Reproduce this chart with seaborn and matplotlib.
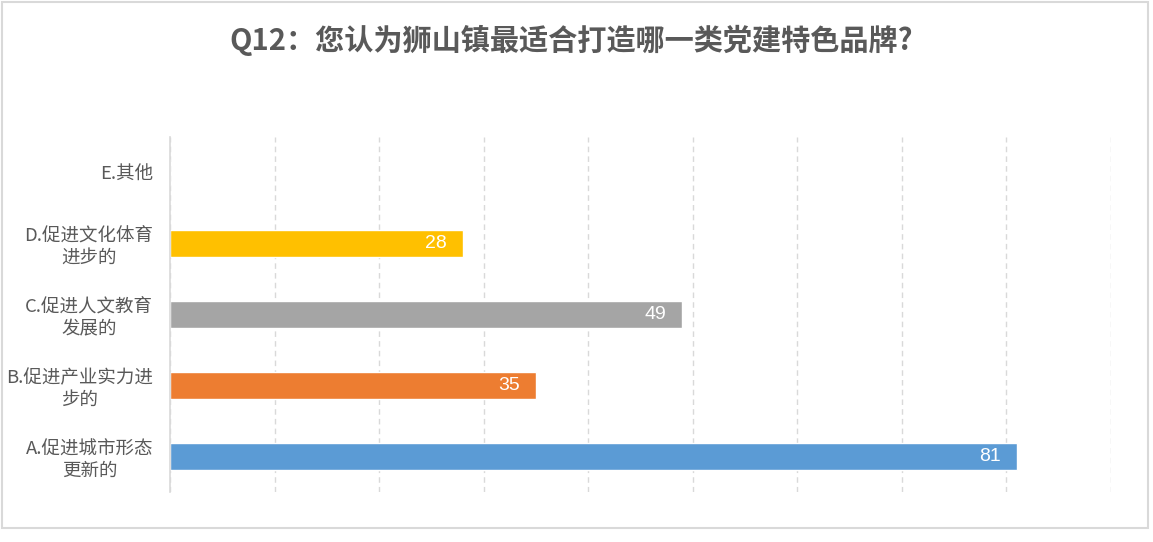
import matplotlib
matplotlib.use("Agg")
import matplotlib.pyplot as plt
import seaborn as sns
import pandas as pd
from matplotlib.patches import Rectangle

categories = ["E.其他", "D.促进文化体育\n进步的", "C.促进人文教育\n发展的",
              "B.促进产业实力进\n步的", "A.促进城市形态\n更新的"]
values = [0, 28, 49, 35, 81]
colors = ["#4472C4", "#FFC000", "#A5A5A5", "#ED7D31", "#5B9BD5"]
title = "Q12：您认为狮山镇最适合打造哪一类党建特色品牌?"

sns.set_theme(style="white")
plt.rcParams['font.family'] = ['Noto Sans CJK SC', 'DejaVu Sans']

df = pd.DataFrame({"cat": categories, "val": values})

fig = plt.figure(figsize=(11.53, 5.42), dpi=100)
ax = fig.add_axes([170/1153, 1-492/542, (1111-170)/1153, (492-137)/542])

sns.barplot(data=df, y="cat", x="val", hue="cat", order=categories,
            hue_order=categories, palette=colors, orient="h", width=0.38,
            legend=False, ax=ax, saturation=1)

ax.set_xlim(0, 90)
ax.set_xticks(range(0, 91, 10))
ax.set_xticklabels([])
ax.set_xlabel("")
ax.set_ylabel("")
ax.xaxis.grid(True, color="#D9D9D9", linestyle=(0, (4, 3)), linewidth=1)
ax.set_axisbelow(True)
for s in ["top", "right", "bottom"]:
    ax.spines[s].set_visible(False)
ax.spines["left"].set_color("#D9D9D9")
ax.spines["left"].set_linewidth(1.2)
ax.tick_params(axis="both", length=0)
for lbl in ax.get_yticklabels():
    lbl.set_multialignment("center")
    lbl.set_color("#595959")
    lbl.set_fontsize(13.3)
    lbl.set_linespacing(1.25)
ax.tick_params(axis="y", pad=12)

for i, v in enumerate(values):
    if v > 0:
        ax.text(v - 1.5, i, str(v), color="white", fontsize=14,
                ha="right", va="center", family=["Liberation Sans"])

fig.text(571/1153, 1-40/542, title, ha="center", va="center",
         fontsize=21, fontweight="bold", color="#595959")

fig.patches.append(Rectangle((2/1153, 1-528/542), (1148-2)/1153, (528-2)/542,
                             transform=fig.transFigure, fill=False,
                             edgecolor="#D9D9D9", linewidth=1.5))

fig.savefig("out.png", dpi=100)
